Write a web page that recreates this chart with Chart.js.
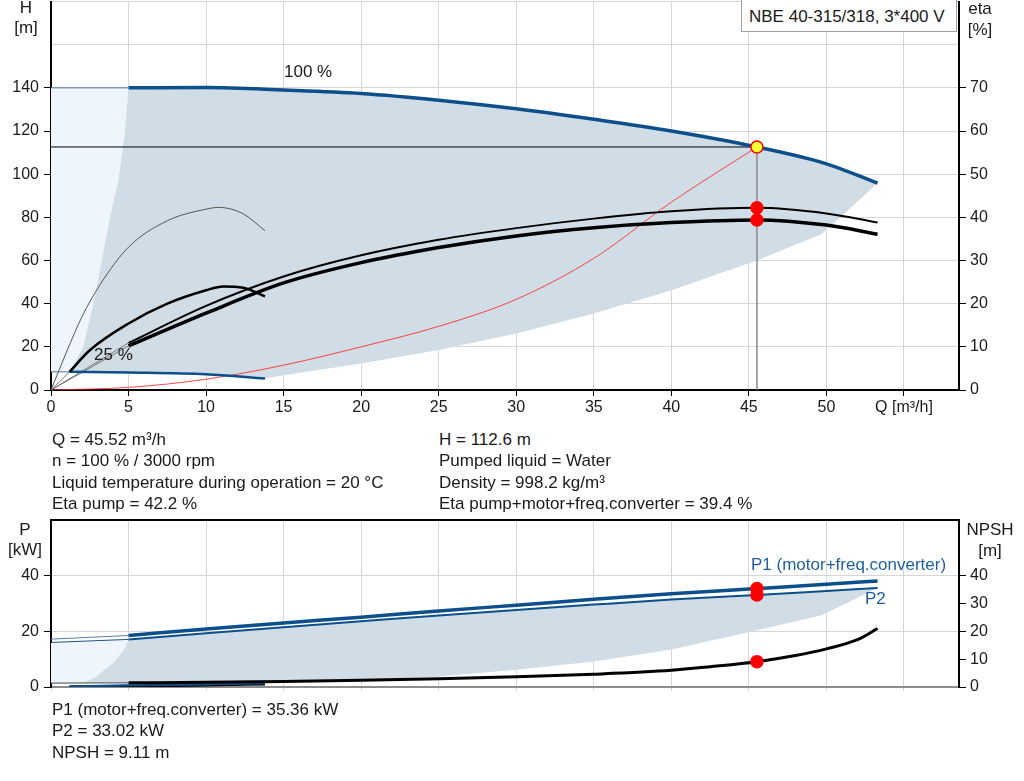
<!DOCTYPE html>
<html>
<head>
<meta charset="utf-8">
<script src="https://cdn.jsdelivr.net/npm/chart.js@4.4.1/dist/chart.umd.min.js"></script>
<style>
body { margin:0; background:#fff; width:1024px; height:781px; position:relative; overflow:hidden;
  font-family:"Liberation Sans", Arial, sans-serif; color:#1a1a1a; }
canvas { position:absolute; left:0; }
#top { top:-6px; }
#bottom { top:500px; }
.t { position:absolute; font-size:17px; white-space:nowrap; line-height:20px; z-index:2; }
.c { text-align:center; }
#legend { position:absolute; left:741px; top:-1px; width:216px; height:33px; border:1px solid #a0a0a0;
  background:#fff; z-index:2; font-size:17px; line-height:33px; padding-left:7px; box-sizing:border-box; }
</style>
</head>
<body>
<canvas id="top" width="1024" height="426"></canvas>
<canvas id="bottom" width="1024" height="215"></canvas>

<div id="legend">NBE 40-315/318, 3*400 V</div>
<div class="t c" style="left:6px;top:-2px;width:40px">H</div>
<div class="t c" style="left:6px;top:18px;width:40px">[m]</div>
<div class="t c" style="left:959px;top:-1px;width:42px">eta</div>
<div class="t c" style="left:959px;top:20px;width:42px">[%]</div>
<div class="t" style="left:284px;top:62px">100 %</div>
<div class="t" style="left:94px;top:345px">25 %</div>

<div class="t" style="left:52px;top:430px">Q = 45.52 m³/h</div>
<div class="t" style="left:52px;top:451px">n = 100 % / 3000 rpm</div>
<div class="t" style="left:52px;top:473px">Liquid temperature during operation = 20 °C</div>
<div class="t" style="left:52px;top:494px">Eta pump = 42.2 %</div>
<div class="t" style="left:439px;top:430px">H = 112.6 m</div>
<div class="t" style="left:439px;top:451px">Pumped liquid = Water</div>
<div class="t" style="left:439px;top:473px">Density = 998.2 kg/m³</div>
<div class="t" style="left:439px;top:494px">Eta pump+motor+freq.converter = 39.4 %</div>

<div class="t c" style="left:5px;top:520px;width:40px">P</div>
<div class="t c" style="left:5px;top:540px;width:40px">[kW]</div>
<div class="t c" style="left:965px;top:520px;width:50px">NPSH</div>
<div class="t c" style="left:965px;top:541px;width:50px">[m]</div>
<div class="t" style="left:751px;top:555px;color:#1f5f9f">P1 (motor+freq.converter)</div>
<div class="t" style="left:865px;top:589px;color:#1f5f9f">P2</div>

<div class="t" style="left:52px;top:700px">P1 (motor+freq.converter) = 35.36 kW</div>
<div class="t" style="left:52px;top:721px">P2 = 33.02 kW</div>
<div class="t" style="left:52px;top:743px">NPSH = 9.11 m</div>

<script>
// ---- top chart: head and efficiency ----
const qFull = [5, 10, 15, 20, 25, 30, 35, 40, 45.52, 50, 53.3];
const hFull = [140, 140.1, 139, 137.4, 134.3, 130.3, 125.4, 120, 112.6, 104.8, 95.8];
const etaPump = [10.9, 19.5, 26.3, 31.2, 34.8, 37.5, 39.7, 41.4, 42.2, 40.9, 38.8];
const etaTotal = [10.2, 17.8, 24.8, 29.5, 33.0, 35.7, 37.6, 38.8, 39.4, 38.2, 36.1];
const hExtQ = [0, 5];
const hExt = [140, 140];

const q25 = [1.2, 5, 10, 13.8];
const h25 = [8.4, 8.1, 7.3, 5.3];
const h25ExtQ = [0, 1.2];
const h25Ext = [8.4, 8.4];
const q25Eta = [1.2, 2.5, 5, 7.5, 10, 11.1, 12.4, 13.8];
const eta25Total = [4.2, 9.2, 15.4, 20, 23.1, 24, 23.7, 21.7];
const q25EtaPump = [0, 1, 2, 3.2, 5, 7.5, 10, 10.8, 12.4, 13.8];
const eta25Pump = [0, 8.8, 17, 24.6, 33.1, 39.2, 41.9, 42.3, 40.8, 36.9];

const sysQ = [0, 5, 10, 15, 20, 25, 30, 35, 40, 45.52];
const sysH = [0, 1.2, 5.0, 11.5, 20, 29.5, 42, 61, 87, 112.6];

const lowQ = [13.8, 15, 20, 25, 30, 35, 40, 45.52, 49.7, 53.3];
const lowH = [5.3, 6.8, 12.3, 18.5, 26.2, 35.4, 46.2, 60, 72.3, 95.8];
const leftQ = [1.2, 2.08, 2.73, 3.27, 3.8, 4.34, 4.75, 5];
const leftH = [8.4, 20, 40, 60, 80, 97, 118.5, 140];

const opQ = 45.52, opH = 112.6, opEtaPump = 42.2, opEtaTotal = 39.4;

// ---- bottom chart: power and NPSH ----
const p1 = [18.5, 20.8, 23.0, 25.1, 27.3, 29.4, 31.5, 33.5, 35.36, 36.9, 38.1];
const p2 = [17.1, 19.3, 21.5, 23.6, 25.7, 27.7, 29.6, 31.4, 33.02, 34.5, 35.6];
const npshQ = [5, 10, 15, 20, 25, 30, 35, 40, 42.5, 45.52, 48, 50, 52, 53.3];
const npsh = [1.5, 1.7, 2.0, 2.4, 3.0, 3.7, 4.6, 6.0, 7.3, 9.11, 11.3, 13.7, 17.0, 21];
const extQ = [0, 5];
const p1Ext = [17.2, 18.5];
const p2Ext = [16.0, 17.1];
const npshExt = [1.4, 1.5];
const p25a = [0.3, 0.6, 1.0, 1.4];
const p25b = [0.2, 0.5, 0.9, 1.3];
const npsh25 = [0.05, 0.3, 0.7, 1.1];
const bLowQ = [53.3, 49.7, 45.52, 40, 35, 30, 25, 20, 15, 13.8, 5, 2.1];
const bLowP = [35.6, 25.8, 20.4, 13.5, 9.2, 6.2, 3.8, 2.6, 2.0, 1.6, 1.5, 1.5];
const bLeftQ = [2.1, 2.9, 3.4, 4.0, 4.7, 5];
const bLeftP = [1.5, 3.6, 6, 8.5, 13.3, 17.1];
const opP1 = 35.36, opP2 = 33.02, opNpsh = 9.11;

const BLUE = '#0d4f8b', GREY_FILL = '#d0dce6', LIGHT_FILL = '#eef5fc', GRID = '#d6d6d6';

Chart.defaults.font.family = '"Liberation Sans", Arial, sans-serif';
Chart.defaults.font.size = 16;
Chart.defaults.color = '#1a1a1a';
Chart.defaults.animation = false;

function pts(xs, ys) { return xs.map((x, i) => ({ x: x, y: ys[i] })); }

function line(data, color, width, order, axis) {
  return { data: data, borderColor: color, borderWidth: width, pointRadius: 0, fill: false,
    cubicInterpolationMode: 'monotone', order: order, yAxisID: axis || 'y' };
}
function area(data, color, order) {
  return { data: data, borderWidth: 0, borderColor: 'transparent', backgroundColor: color,
    pointRadius: 0, fill: 'shape', tension: 0, order: order, yAxisID: 'y' };
}
function dots(data, fillColor, order, axis) {
  return { data: data, showLine: false, pointRadius: 6, pointBackgroundColor: fillColor,
    pointBorderColor: '#ff0000', pointBorderWidth: 1.5, order: order, yAxisID: axis || 'y' };
}
function fix(w, h) {
  return function (s) {
    if (w != null) s.width = w;
    if (h != null) s.height = h;
    s.paddingTop = 0; s.paddingBottom = 0; s.paddingLeft = 0; s.paddingRight = 0;
  };
}
function upTo(limit) { return v => v <= limit ? v : ''; }
function tickCol(limit) { return c => (c.tick && c.tick.value <= limit) ? '#000' : 'transparent'; }

const topArea = [...pts(qFull, hFull), ...pts(lowQ, lowH).reverse(), ...pts(q25, h25).reverse(), ...pts(leftQ, leftH)];
const topLight = [...pts(hExtQ, hExt), ...pts(leftQ, leftH).reverse(), ...pts(h25ExtQ, h25Ext).reverse()];

new Chart(document.getElementById('top'), {
  type: 'line',
  data: { datasets: [
    area(topLight, LIGHT_FILL, 20),
    area(topArea, GREY_FILL, 19),
    line([{ x: 0, y: 0 }, { x: qFull[0], y: etaPump[0] }], '#777', 1, 9, 'eta'),
    line([{ x: 0, y: 0 }, { x: qFull[0], y: etaTotal[0] }], '#777', 1, 9, 'eta'),
    line([{ x: 0, y: 0 }, { x: q25Eta[0], y: eta25Total[0] }], '#777', 1, 9, 'eta'),
    line(pts(hExtQ, hExt), '#4a78a6', 1, 8),
    line(pts(h25ExtQ, h25Ext), '#4a78a6', 1, 8),
    line([{ x: 0, y: opH }, { x: opQ, y: opH }], '#000', 1, 7),
    line([{ x: opQ, y: 0 }, { x: opQ, y: opH }], '#8a8a8a', 1.5, 7),
    line(pts(sysQ, sysH), 'rgba(255,40,40,0.85)', 1, 6),
    line(pts(q25EtaPump, eta25Pump), '#555', 1, 5, 'eta'),
    line(pts(q25Eta, eta25Total), '#000', 2.5, 4, 'eta'),
    line(pts(q25, h25), BLUE, 2.5, 4),
    line(pts(qFull, etaPump), '#000', 2, 3, 'eta'),
    line(pts(qFull, etaTotal), '#000', 3.5, 3, 'eta'),
    line(pts(qFull, hFull), BLUE, 3.5, 2),
    dots([{ x: opQ, y: opEtaPump }, { x: opQ, y: opEtaTotal }], '#ff0000', 1, 'eta'),
    dots([{ x: opQ, y: opH }], '#ffff33', 0)
  ] },
  options: {
    responsive: false, events: [],
    layout: { padding: { top: 1, left: 0, right: 0, bottom: 0 } },
    plugins: { legend: { display: false }, tooltip: { enabled: false } },
    scales: {
      x: { type: 'linear', min: 0, max: 58.55, afterFit: fix(null, 30),
        ticks: { stepSize: 5, includeBounds: false, autoSkip: false, maxRotation: 0, padding: 2,
          callback: v => v === 55 ? 'Q [m³/h]' : v },
        grid: { color: GRID, tickLength: 6, tickColor: '#000' },
        border: { color: '#000', width: 2 } },
      y: { position: 'left', min: 0, max: 180, afterFit: fix(51, null),
        ticks: { stepSize: 20, callback: upTo(140), padding: 5 },
        grid: { color: GRID, tickLength: 7, tickColor: tickCol(140) },
        border: { color: '#000', width: 2 } },
      eta: { position: 'right', min: 0, max: 90, afterFit: fix(65, null),
        ticks: { stepSize: 10, callback: upTo(70), padding: 4 },
        grid: { drawOnChartArea: false, tickLength: 7, tickColor: tickCol(70) },
        border: { color: '#000', width: 2 } }
    }
  }
});

const botArea = [...pts(qFull, p2), ...pts(bLowQ, bLowP), ...pts(bLeftQ, bLeftP)];
const botLight = [...pts(extQ, p2Ext), ...pts(bLeftQ, bLeftP).reverse(), { x: 0, y: npshExt[0] }];

new Chart(document.getElementById('bottom'), {
  type: 'line',
  data: { datasets: [
    area(botLight, LIGHT_FILL, 20),
    area(botArea, GREY_FILL, 19),
    line(pts(extQ, p1Ext), '#5b7fa3', 1, 8),
    line(pts(extQ, p2Ext), '#1f5288', 1, 8),
    line(pts(extQ, npshExt), '#444', 1, 8, 'npsh'),
    line(pts(q25, npsh25), '#000', 3, 6, 'npsh'),
    line(pts(q25, p25b), BLUE, 1.5, 5),
    line(pts(q25, p25a), BLUE, 2, 5),
    line(pts(npshQ, npsh), '#000', 3, 4, 'npsh'),
    line(pts(qFull, p2), BLUE, 2, 3),
    line(pts(qFull, p1), BLUE, 3.5, 2),
    dots([{ x: opQ, y: opP1 }, { x: opQ, y: opP2 }], '#ff0000', 1),
    dots([{ x: opQ, y: opNpsh }], '#ff0000', 1, 'npsh')
  ] },
  options: {
    responsive: false, events: [],
    layout: { padding: { top: 20, left: 0, right: 0, bottom: 0 } },
    plugins: { legend: { display: false }, tooltip: { enabled: false } },
    scales: {
      x: { type: 'linear', min: 0, max: 58.55, afterFit: fix(null, 28),
        ticks: { display: false, stepSize: 5, includeBounds: false },
        grid: { color: GRID, tickLength: 4, tickColor: GRID },
        border: { color: '#8c8c8c', width: 2 } },
      y: { position: 'left', min: 0, max: 60, afterFit: fix(51, null),
        ticks: { stepSize: 20, callback: upTo(40), padding: 5 },
        grid: { color: c => c.tick && c.tick.value === 60 ? '#000' : GRID,
          lineWidth: c => c.tick && c.tick.value === 60 ? 2 : 1,
          tickLength: 7, tickColor: tickCol(40) },
        border: { color: '#000', width: 2 } },
      npsh: { position: 'right', min: 0, max: 60, afterFit: fix(65, null),
        ticks: { stepSize: 10, callback: upTo(40), padding: 4 },
        grid: { drawOnChartArea: false, tickLength: 7, tickColor: tickCol(40) },
        border: { color: '#000', width: 2 } }
    }
  }
});
</script>
</body>
</html>
